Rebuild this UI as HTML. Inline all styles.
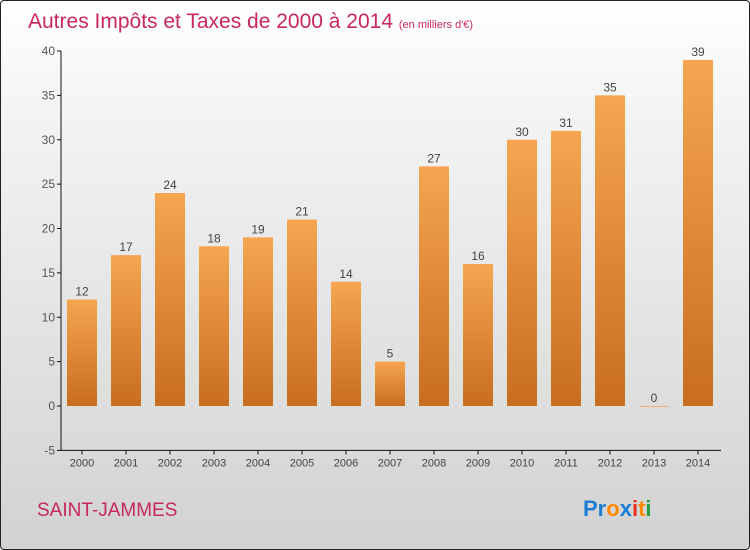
<!DOCTYPE html>
<html><head><meta charset="utf-8"><style>
body{margin:0;}
#c{width:748px;height:548px;border:1px solid #222;border-radius:4px;position:relative;overflow:hidden;background:linear-gradient(#ffffff,#f4f4f4 20%,#d2d2d2);font-family:"Liberation Sans",sans-serif;}
</style></head><body>
<div id="c">
<svg id="s" width="748" height="548" xmlns="http://www.w3.org/2000/svg">
<defs><linearGradient id="g" x1="0" y1="0" x2="0" y2="1"><stop offset="0" stop-color="#f6a550"/><stop offset="1" stop-color="#c86e1e"/></linearGradient></defs>
<text x="27" y="27" font-size="21" fill="#c8285a">Autres Impôts et Taxes de 2000 à 2014 <tspan font-size="11">(en milliers d'€)</tspan></text>
<text x="36" y="515" font-size="19" fill="#c8285a">SAINT-JAMMES</text>
<g font-size="22" font-weight="bold"><text x="582" y="515"><tspan fill="#1a7fd4">Pr</tspan><tspan fill="#ff8a00">o</tspan><tspan fill="#1a7fd4">x</tspan><tspan fill="#e83020">i</tspan><tspan fill="#ff8a00">t</tspan><tspan fill="#22a040">i</tspan></text></g>
<g id="ax"></g><g id="bars"></g>
</svg></div>
<script>
const categories=["2000","2001","2002","2003","2004","2005","2006","2007","2008","2009","2010","2011","2012","2013","2014"];
const values=[12,17,24,18,19,21,14,5,27,16,30,31,35,0,39];
const yTicks=[-5,0,5,10,15,20,25,30,35,40];
const NS="http://www.w3.org/2000/svg";
const y=v=>405-v*8.875;
const x=i=>81+i*44;
function mk(t,a,p){const e=document.createElementNS(NS,t);for(const k in a)e.setAttribute(k,a[k]);p.appendChild(e);return e;}
const ax=document.getElementById('ax'),bars=document.getElementById('bars');
const yl=mk('line',{x1:60,y1:y(40),x2:60,y2:y(-5),stroke:'#111'},ax);


const xl=mk('line',{x1:60,y1:y(-5),x2:720,y2:y(-5),stroke:'#111'},ax);


yTicks.forEach(t=>{
 mk('line',{x1:56,x2:60,y1:y(t),y2:y(t),stroke:'#111'},ax);
 const tx=mk('text',{x:54,y:y(t)+4,'text-anchor':'end','font-size':12,fill:'#555'},ax);
 tx.textContent=t;
 
 
});
categories.forEach((c,i)=>{
 mk('line',{x1:x(i),x2:x(i),y1:y(-5),y2:y(-5)+4,stroke:'#111'},ax);
 const tx=mk('text',{x:x(i),y:y(-5)+16,'text-anchor':'middle','font-size':11,fill:'#444'},ax);
 tx.textContent=c;
 
 
 const v=values[i];
 const h=Math.max(Math.abs(y(0)-y(v)),1);
 const r=mk('rect',{x:x(i)-15,y:v>=0?y(v):y(0),width:30,height:h,fill:v===0?'#e8b07a':'url(#g)'},bars);
 
 
 const l=mk('text',{x:x(i),y:y(Math.max(v,0))-4,'text-anchor':'middle','font-size':12,fill:'#444'},bars);
 l.textContent=v;
 
 
});
</script>
</body></html>
